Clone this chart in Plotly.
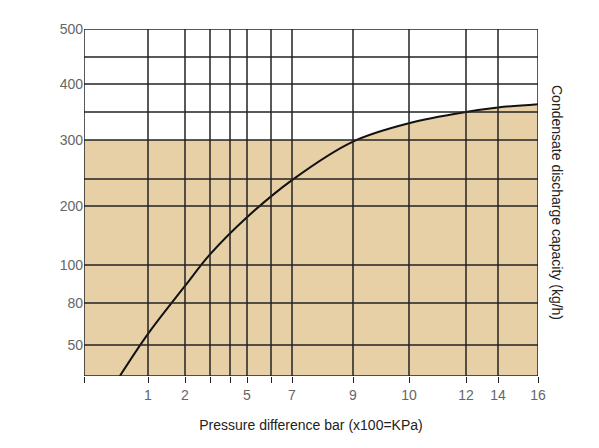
import numpy as np
import plotly.graph_objects as go

# axis grid: pressure values and their (non-uniform) chart positions
x_vals = [0, 1, 2, 3, 4, 5, 6, 7, 9, 10, 12, 14, 16]
x_pos = [0, 64, 101, 126, 146, 163, 187, 208, 269, 325, 382, 414, 454]
x_labels = ["", "1", "2", "", "", "5", "", "7", "9", "10", "12", "14", "16"]
y_vals = [30, 50, 80, 100, 200, 250, 300, 350, 400, 450, 500]
y_pos = [0, 31, 73, 111, 170, 197, 236, 264, 292, 319, 347]
y_labels = ["", "50", "80", "100", "200", "", "300", "", "400", "", "500"]

# curve (pressure bar, kg/h)
curve_p = [0.56, 1, 2, 3, 5, 7, 9, 10, 12, 14, 16]
curve_q = [30, 58, 89, 118, 181, 248, 298, 330, 350, 358, 364]

def px(v): return np.interp(v, x_vals, x_pos)
def py(v): return np.interp(v, y_vals, y_pos)

cpx = px(np.array(curve_p)); cpy = py(np.array(curve_q))

fig = go.Figure()
# base fill up to 300
fig.add_trace(go.Scatter(x=[0, 454], y=[py(300), py(300)], fill='tozeroy', mode='none',
                         fillcolor='#E8D0A6', hoverinfo='skip'))
# fill under curve
fig.add_trace(go.Scatter(x=list(cpx), y=list(cpy), fill='tozeroy', mode='none', line_shape='spline',
                         fillcolor='#E8D0A6', hoverinfo='skip'))
for p in x_pos:
    fig.add_shape(type='line', x0=p, x1=p, y0=0, y1=y_pos[-1], line=dict(color='#222', width=1.5))
for p in y_pos:
    fig.add_shape(type='line', x0=0, x1=x_pos[-1], y0=p, y1=p, line=dict(color='#222', width=1.5))
fig.add_trace(go.Scatter(x=list(cpx), y=list(cpy), mode='lines', line=dict(color='#111', width=2, shape='spline'),
                         hoverinfo='skip'))

fig.update_layout(
    width=599, height=448, showlegend=False,
    margin=dict(l=76, r=69, t=21, b=80, autoexpand=False),
    plot_bgcolor='white', paper_bgcolor='white',
    font=dict(family='Liberation Sans, Arial', color='#666', size=14),
    xaxis=dict(range=[0, 454], tickvals=x_pos, ticktext=x_labels, showgrid=False, zeroline=False,
               ticks='outside', ticklen=6, tickcolor='#222', showline=False, automargin=False,
               title=dict(text='Pressure difference bar (x100=KPa)', font=dict(color='#222', size=14), standoff=18)),
    yaxis=dict(range=[0, 347], tickvals=y_pos, ticktext=y_labels, showgrid=False, zeroline=False,
               ticks='', showline=False, automargin=False),
    annotations=[dict(text='Condensate discharge capacity (kg/h)', textangle=90, xref='paper', yref='paper',
                      x=1.065, y=0.5, showarrow=False, font=dict(color='#222', size=14))],
)
fig.write_html("out.html")
